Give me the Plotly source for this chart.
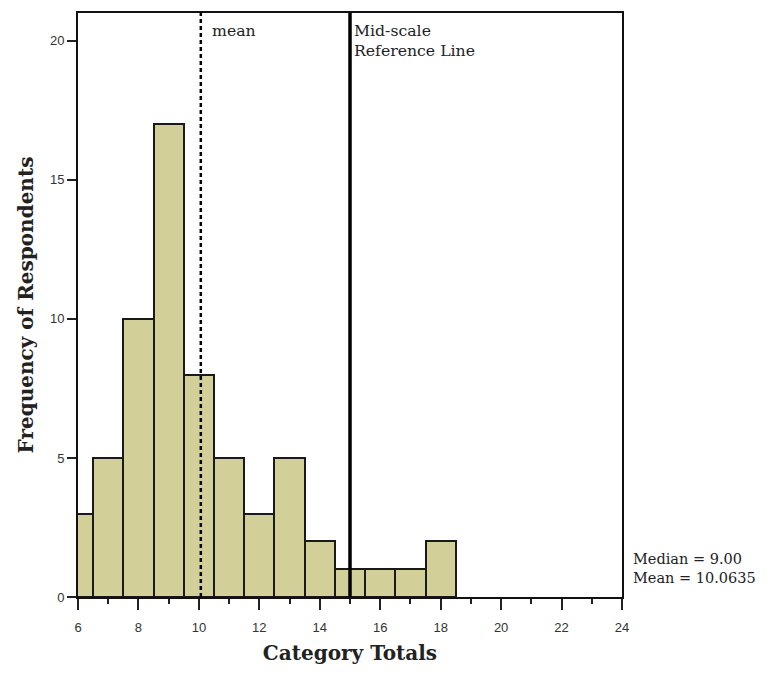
import numpy as np
import plotly.graph_objects as go

# Data
category_totals = [6, 7, 8, 9, 10, 11, 12, 13, 14, 15, 16, 17, 18]
frequencies = [3, 5, 10, 17, 8, 5, 3, 5, 2, 1, 1, 1, 2]
x_tick_values = [6, 8, 10, 12, 14, 16, 18, 20, 22, 24]
y_tick_values = [0, 5, 10, 15, 20]
mid_scale_value = 15

# Summary stats derived from the data
vals = np.repeat(category_totals, frequencies)
mean_val = float(np.mean(vals))
median_val = float(np.median(vals))

fig = go.Figure()
fig.add_trace(go.Bar(
    x=category_totals,
    y=frequencies,
    width=1,
    marker=dict(color="#d3cf98", line=dict(color="#1a1a1a", width=2)),
    showlegend=False,
    hoverinfo="x+y",
))

serif = "DejaVu Serif"

fig.add_shape(type="line", xref="x", yref="paper", x0=mean_val, x1=mean_val, y0=0, y1=1,
              line=dict(color="black", width=2.5, dash="4px,3px"))
fig.add_shape(type="line", xref="x", yref="paper", x0=mid_scale_value, x1=mid_scale_value, y0=0, y1=1,
              line=dict(color="black", width=3.5))

fig.add_annotation(x=mean_val, xref="x", y=0.9695, yref="paper", text="mean",
                   showarrow=False, xanchor="left", yanchor="middle", xshift=9,
                   font=dict(family=serif, size=15.7, color="#222"))
fig.add_annotation(x=mid_scale_value, xref="x", y=0.990, yref="paper",
                   text="Mid-scale<br>Reference Line", align="left",
                   showarrow=False, xanchor="left", yanchor="top", xshift=2,
                   font=dict(family=serif, size=15.7, color="#222"))
fig.add_annotation(x=1, xref="paper", y=0.048, yref="paper",
                   text=f"Median = {median_val:.2f}<br>Mean = {mean_val:.4f}", align="left",
                   showarrow=False, xanchor="left", yanchor="middle", xshift=9,
                   font=dict(family=serif, size=14.5, color="#222"))

fig.update_layout(
    width=751, height=657,
    margin=dict(l=70, r=137, t=3, b=60),
    paper_bgcolor="white", plot_bgcolor="white",
    bargap=0,
    xaxis=dict(
        range=[6, 24], tickvals=x_tick_values, ticktext=[str(v) for v in x_tick_values],
        ticks="outside", ticklen=11, tickwidth=2, tickcolor="#222",
        minor=dict(dtick=1, tick0=6, ticks="outside", ticklen=5, tickwidth=2, tickcolor="#222"),
        showline=True, linecolor="#111", linewidth=2, mirror=True,
        showgrid=False, zeroline=False,
        ticklabelstandoff=6,
        tickfont=dict(family="Liberation Sans", size=13, color="#333"),
        title=dict(text="<b>Category Totals</b>", font=dict(family=serif, size=20, color="#222"), standoff=13),
    ),
    yaxis=dict(
        range=[0, 21], tickvals=y_tick_values,
        ticks="outside", ticklen=9, tickwidth=2, tickcolor="#222",
        showline=True, linecolor="#111", linewidth=2, mirror=True,
        showgrid=False, zeroline=False,
        tickfont=dict(family="Liberation Sans", size=13, color="#333"),
        title=dict(text="<b>Frequency of Respondents</b>", font=dict(family=serif, size=20, color="#222"), standoff=11),
    ),
)

fig.write_html("out.html")
